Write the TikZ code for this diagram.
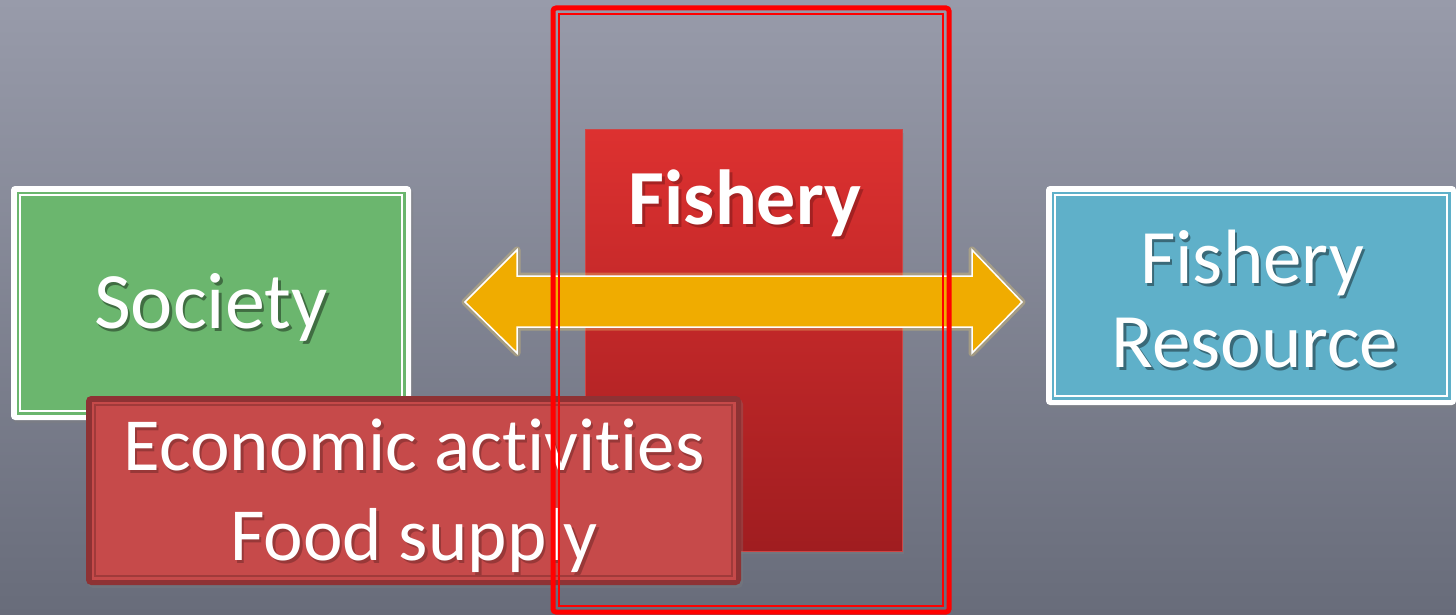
\documentclass[tikz,border=0pt]{standalone}
\usepackage{fontspec}
\setmainfont{Carlito}[Ligatures=NoCommon]
\usetikzlibrary{shadows}
\definecolor{bgtop}{RGB}{152,155,170}
\definecolor{bgbot}{RGB}{104,108,122}
\definecolor{socgreen}{RGB}{107,182,110}
\definecolor{resblue}{RGB}{95,176,201}
\definecolor{fishtop}{RGB}{221,49,48}
\definecolor{fishbot}{RGB}{160,29,32}
\definecolor{fishedge}{RGB}{205,70,70}
\definecolor{ecofill}{RGB}{198,74,74}
\definecolor{ecoedge}{RGB}{142,50,52}
\definecolor{ecoline}{RGB}{160,58,58}
\definecolor{arrowfill}{RGB}{240,172,0}
\definecolor{arrowglow}{RGB}{235,205,110}
\definecolor{hlred}{RGB}{255,0,0}
\begin{document}
\begin{tikzpicture}[x=1pt,y=-1pt,
  boxbase/.style={rectangle,inner sep=0pt,outer sep=0pt},
  whiteframe/.style={boxbase,fill=white,rounded corners=4pt,
    drop shadow={opacity=0.35,shadow xshift=2pt,shadow yshift=-3pt}},
  fishbox/.style={boxbase,top color=fishtop,bottom color=fishbot,draw=fishedge,line width=1pt,
    drop shadow={opacity=0.35,shadow xshift=2pt,shadow yshift=-3pt}},
  ecobox/.style={boxbase,fill=ecoedge,rounded corners=5pt,
    drop shadow={opacity=0.3,shadow xshift=2pt,shadow yshift=-3pt}},
  hlbox/.style={boxbase,draw=hlred,line width=5pt,rounded corners=3pt},
  txt/.style={inner sep=0pt,text=white,anchor=base},
  txtshadow/.style={inner sep=0pt,text=black,opacity=0.4,anchor=base},
  bigfont/.style={font=\fontsize{80}{84}\selectfont},
  resfont/.style={font=\fontsize{77}{84}\selectfont},
  boldfont/.style={font=\fontsize{78}{84}\selectfont\bfseries},
  ecofont/.style={font=\fontsize{75}{84}\selectfont}
]
% background
\shade[top color=bgtop,bottom color=bgbot] (0,0) rectangle (1456,615);
\useasboundingbox (0,0) rectangle (1456,615);

% Society
\node[whiteframe,minimum width=400pt,minimum height=234pt] (society) at (211,303) {};
\fill[socgreen] ([shift={(5.5,5.5)}]society.north west) rectangle ([shift={(-5.5,-5.5)}]society.south east);
\draw[white,line width=1.3pt] ([shift={(9,9)}]society.north west) rectangle ([shift={(-9,-9)}]society.south east);
\node[txtshadow,bigfont] (socshadow) at (213.5,331) {Society};
\node[txt,bigfont] (soctext) at (211,328) {Society};

% Fishery
\node[fishbox,minimum width=317pt,minimum height=421pt] (fishery) at (743.5,340.5) {};
\node[txtshadow,boldfont,text=fishbot!60!black] (fishshadow) at (748,227) {Fishery};
\node[txt,boldfont] (fishtext) at (745,224) {Fishery};

% double arrow
\coordinate (al) at (465,302);
\coordinate (ar) at (1022,302);
\path[draw=arrowglow,line width=7pt,opacity=0.35,line join=round]
  (al) -- (517,250) -- (517,276) -- (972,276) -- (972,250) -- (ar) -- (972,353) -- (972,327) -- (517,327) -- (517,353) -- cycle;
\path[fill=arrowfill,draw=white,line width=1.5pt]
  (al) -- (517,250) -- (517,276) -- (972,276) -- (972,250) -- (ar) -- (972,353) -- (972,327) -- (517,327) -- (517,353) -- cycle;

% Economic activities / Food supply
\node[ecobox,minimum width=655pt,minimum height=189pt] (economic) at (413.5,490.5) {};
\fill[ecofill] ([shift={(5.5,5.5)}]economic.north west) rectangle ([shift={(-5.5,-5.5)}]economic.south east);
\draw[ecoline,line width=1.2pt] ([shift={(9,9)}]economic.north west) rectangle ([shift={(-9,-9)}]economic.south east);
\node[txtshadow,ecofont,text=ecoedge!60!black] (ecoshadowA) at (416.5,473) {Economic activities};
\node[txt,ecofont] (ecotextA) at (414,470) {Economic activities};
\node[txtshadow,ecofont,text=ecoedge!60!black] (ecoshadowB) at (416.5,563) {Food supply};
\node[txt,ecofont] (ecotextB) at (414,560) {Food supply};

% Fishery Resource
\node[whiteframe,minimum width=410pt,minimum height=219pt] (resource) at (1251,295.5) {};
\fill[resblue] ([shift={(5.5,5.5)}]resource.north west) rectangle ([shift={(-5.5,-5.5)}]resource.south east);
\draw[white,line width=1.3pt] ([shift={(9,9)}]resource.north west) rectangle ([shift={(-9,-9)}]resource.south east);
\node[txtshadow,resfont] (resshadowA) at (1254.5,286) {Fishery};
\node[txt,resfont] (restextA) at (1252,283) {Fishery};
\node[txtshadow,resfont] (resshadowB) at (1257.5,370) {Resource};
\node[txt,resfont] (restextB) at (1255,367) {Resource};

% red highlight frame
\node[hlbox,minimum width=396pt,minimum height=604pt] (highlight) at (751,310) {};
\draw[hlred,line width=1.3pt] ([shift={(6,6)}]highlight.north west) rectangle ([shift={(-6,-6)}]highlight.south east);
\end{tikzpicture}
\end{document}
